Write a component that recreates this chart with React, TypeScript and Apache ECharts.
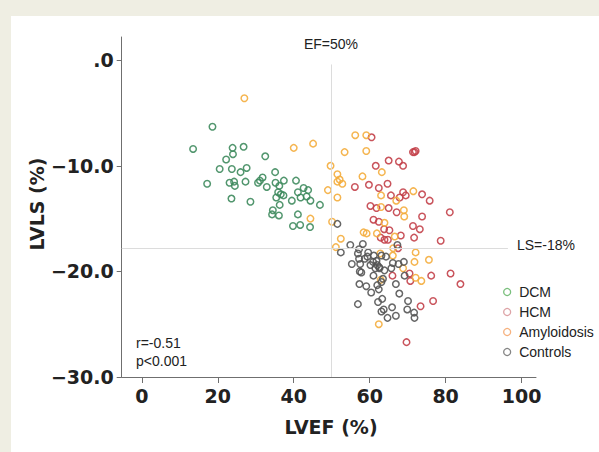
import React, { useEffect, useRef } from "react";
import * as echarts from "echarts";

const seriesNames = ["DCM", "HCM", "Amyloidosis", "Controls"];

const dcm: number[][] = [
  [18.6, -6.3], [13.5, -8.4], [23.9, -8.3], [26.8, -8.2], [24.0, -8.9], [22.2, -9.4], [32.5, -9.1],
  [20.5, -10.3], [23.7, -10.3], [26.0, -10.6], [27.6, -10.2], [35.1, -10.6], [17.2, -11.7], [23.1, -11.6],
  [24.3, -11.5], [24.5, -11.9], [27.3, -11.5], [30.6, -11.6], [31.1, -11.4], [31.8, -11.1], [32.9, -12.0],
  [35.2, -11.6], [37.4, -11.4], [40.6, -11.4], [36.2, -11.9], [35.9, -12.5], [36.6, -12.7], [35.4, -13.0],
  [37.3, -12.8], [39.5, -13.3], [41.1, -12.5], [42.6, -12.1], [43.8, -12.3], [41.8, -13.0], [43.4, -12.9],
  [44.4, -13.3], [23.6, -13.1], [28.6, -13.4], [36.3, -13.7], [34.5, -14.2], [34.3, -14.6], [36.1, -14.7],
  [41.1, -14.6], [39.8, -15.7], [41.7, -15.6], [44.3, -15.8], [46.9, -13.7],
];

const hcm: number[][] = [
  [60.5, -7.3], [71.4, -8.7], [72.1, -8.6], [71.8, -8.7], [61.6, -10.0], [65.0, -9.5], [67.7, -9.6],
  [68.8, -10.0], [56.1, -12.0], [59.8, -11.8], [62.4, -12.1], [64.7, -11.7], [65.6, -12.8], [68.8, -12.5],
  [69.5, -12.8], [67.9, -13.0], [73.8, -12.7], [75.8, -13.3], [81.1, -14.4], [60.2, -13.8], [61.8, -14.0],
  [65.0, -14.0], [67.1, -14.4], [73.8, -14.8], [61.0, -15.1], [62.4, -15.3], [63.8, -16.0], [65.2, -16.1],
  [71.4, -15.7], [73.2, -16.0], [68.2, -16.6], [62.9, -16.8], [63.9, -17.0], [64.8, -17.0], [71.7, -16.8],
  [78.7, -17.1], [67.5, -17.8], [66.0, -20.4], [70.5, -20.2], [70.7, -20.9], [76.2, -20.4], [81.3, -20.2],
  [83.9, -21.2], [73.4, -23.3], [76.7, -22.8], [69.7, -26.7],
];

const amyloidosis: number[][] = [
  [27.0, -3.6], [40.0, -8.3], [45.1, -7.9], [44.4, -15.0], [56.2, -7.1], [59.1, -7.1], [53.4, -8.7],
  [59.1, -8.6], [63.2, -10.6], [49.7, -10.0], [51.5, -10.8], [52.1, -11.3], [52.8, -11.7], [51.5, -11.5],
  [58.1, -11.0], [49.0, -12.3], [51.5, -13.0], [63.0, -12.8], [67.0, -13.3], [71.5, -12.4], [63.0, -13.9],
  [69.0, -14.2], [69.1, -14.8], [50.1, -15.3], [63.9, -15.4], [58.4, -16.3], [59.2, -16.4], [61.9, -16.4],
  [66.6, -16.7], [52.4, -16.9], [51.1, -17.7], [66.2, -17.8], [72.1, -18.2], [71.8, -19.1], [75.6, -18.9],
  [66.1, -18.5], [62.8, -18.3], [68.8, -19.7], [62.9, -20.8], [72.1, -20.6], [73.6, -20.9], [62.4, -25.0],
];

const controls: number[][] = [
  [51.5, -15.5], [54.9, -17.5], [58.2, -17.4], [57.2, -17.9], [52.4, -18.2], [67.3, -17.5], [55.3, -19.3],
  [57.2, -18.8], [57.5, -19.3], [58.7, -18.8], [59.4, -18.6], [61.1, -18.5], [60.9, -19.1], [62.0, -19.4],
  [62.5, -19.6], [61.5, -19.7], [63.1, -18.5], [64.3, -18.6], [60.2, -19.4], [57.4, -20.0], [57.8, -20.1],
  [66.1, -19.2], [69.0, -19.1], [67.6, -19.3], [69.2, -20.4], [61.0, -20.4], [63.5, -20.7], [63.1, -21.0],
  [57.3, -21.2], [59.1, -21.4], [62.0, -21.3], [66.9, -21.2], [60.4, -22.0], [62.4, -21.7], [67.8, -22.1],
  [56.9, -23.1], [62.2, -22.9], [63.3, -22.6], [70.1, -22.8], [65.9, -23.4], [63.1, -23.8], [63.7, -23.6],
  [64.7, -24.4], [66.9, -24.2], [69.9, -23.6], [71.7, -23.9], [71.8, -24.4], [56.9, -18.3], [59.6, -18.2],
  [61.8, -19.0], [62.6, -19.7], [65.7, -19.7], [63.9, -19.9],
];

const xTicks = [0, 20, 40, 60, 80, 100];
const yTicks = [-30, -20, -10, 0];
const efCut = 50;
const lsCut = -17.8;

const pointColors = ["#3f8b5e", "#c3414a", "#f4ad3d", "#555555"];
const legendColors = ["#6ab86e", "#d9999c", "#f5a870", "#777777"];

const TICK_FONT = "'DejaVu Sans', sans-serif";
const NOTE_FONT = "'Liberation Sans', Arial, sans-serif";

export default function App() {
  const ref = useRef<HTMLDivElement>(null);
  useEffect(() => {
    if (!ref.current) return;
    const chart = echarts.init(ref.current, null, { renderer: "svg" });
    const datasets = [dcm, hcm, amyloidosis, controls];
    const yLabel = (v: number) => (v === 0 ? ".0" : (v < 0 ? "\u2212" : "") + Math.abs(v).toFixed(1));
    chart.setOption({
      animation: false,
      backgroundColor: "transparent",
      grid: { left: 121.7, top: 37, right: 63, bottom: 75, containLabel: false },
      xAxis: {
        type: "value",
        min: -5.3,
        max: 103.8,
        splitLine: { show: false },
        axisLine: { show: true, onZero: false, lineStyle: { color: "#6f6f6f", width: 1 } },
        axisTick: { show: true, customValues: xTicks, length: 6, lineStyle: { color: "#6f6f6f" } },
        axisLabel: {
          customValues: xTicks,
          margin: 9,
          fontFamily: TICK_FONT,
          fontWeight: "bold",
          fontSize: 19,
          color: "#222",
        },
      },
      yAxis: {
        type: "value",
        min: -30,
        max: 2.2,
        splitLine: { show: false },
        axisLine: { show: true, onZero: false, lineStyle: { color: "#6f6f6f", width: 1 } },
        axisTick: { show: true, customValues: yTicks, length: 5, lineStyle: { color: "#6f6f6f" } },
        axisLabel: {
          customValues: yTicks,
          margin: 8,
          fontFamily: TICK_FONT,
          fontWeight: "bold",
          fontSize: 19,
          color: "#222",
          formatter: yLabel,
        },
      },
      legend: {
        orient: "vertical",
        left: 498,
        top: 280,
        itemWidth: 14,
        itemHeight: 7,
        itemGap: 6,
        textStyle: { fontFamily: NOTE_FONT, fontSize: 14, color: "#222" },
        data: seriesNames.map((n, i) => ({
          name: n,
          icon: "circle",
          itemStyle: { color: "rgba(0,0,0,0)", borderColor: legendColors[i], borderWidth: 1.3 },
        })),
      },
      series: [
        {
          type: "scatter",
          name: "refs",
          data: [],
          z: 1,
          silent: true,
          markLine: {
            silent: true,
            symbol: "none",
            label: { show: false },
            lineStyle: { color: "#dcdcdc", type: "solid", width: 1 },
            data: [
              [{ coord: [efCut, -0.4] }, { coord: [efCut, -30] }],
              [{ coord: [-5.3, lsCut] }, { coord: [96.4, lsCut] }],
            ],
          },
        },
        ...datasets.map((d, i) => ({
          type: "scatter",
          name: seriesNames[i],
          data: d,
          z: 3,
          symbol: "circle",
          symbolSize: 6.5,
          itemStyle: {
            color: "rgba(0,0,0,0)",
            borderColor: pointColors[i],
            borderWidth: 1.5,
            opacity: 0.9,
          },
        })),
      ],
      graphic: [
        {
          type: "text",
          x: 331,
          y: 44,
          style: { text: "EF=50%", fontFamily: NOTE_FONT, fontSize: 14, fill: "#222", align: "center", verticalAlign: "middle" },
        },
        {
          type: "text",
          x: 517,
          y: 245,
          style: { text: "LS=-18%", fontFamily: NOTE_FONT, fontSize: 14, fill: "#222", align: "left", verticalAlign: "middle" },
        },
        {
          type: "text",
          x: 136,
          y: 342.5,
          style: { text: "r=-0.51", fontFamily: NOTE_FONT, fontSize: 14, fill: "#222", align: "left", verticalAlign: "middle" },
        },
        {
          type: "text",
          x: 136,
          y: 361,
          style: { text: "p<0.001", fontFamily: NOTE_FONT, fontSize: 14, fill: "#222", align: "left", verticalAlign: "middle" },
        },
        {
          type: "text",
          x: 331,
          y: 427,
          style: { text: "LVEF (%)", fontFamily: TICK_FONT, fontWeight: "bold", fontSize: 19, fill: "#222", align: "center", verticalAlign: "middle" },
        },
        {
          type: "text",
          x: 37,
          y: 204,
          rotation: Math.PI / 2,
          style: { text: "LVLS (%)", fontFamily: TICK_FONT, fontWeight: "bold", fontSize: 19, fill: "#222", align: "center", verticalAlign: "middle" },
        },
      ],
    });
    return () => chart.dispose();
  }, []);

  return (
    <div style={{ position: "fixed", left: 0, top: 0, width: 599, height: 452, background: "#efeee3", overflow: "hidden" }}>
      <div style={{ position: "absolute", left: 11, top: 16, right: 0, bottom: 0, background: "#ffffff" }} />
      <div ref={ref} style={{ position: "absolute", left: 0, top: 0, width: 599, height: 452 }} />
    </div>
  );
}
